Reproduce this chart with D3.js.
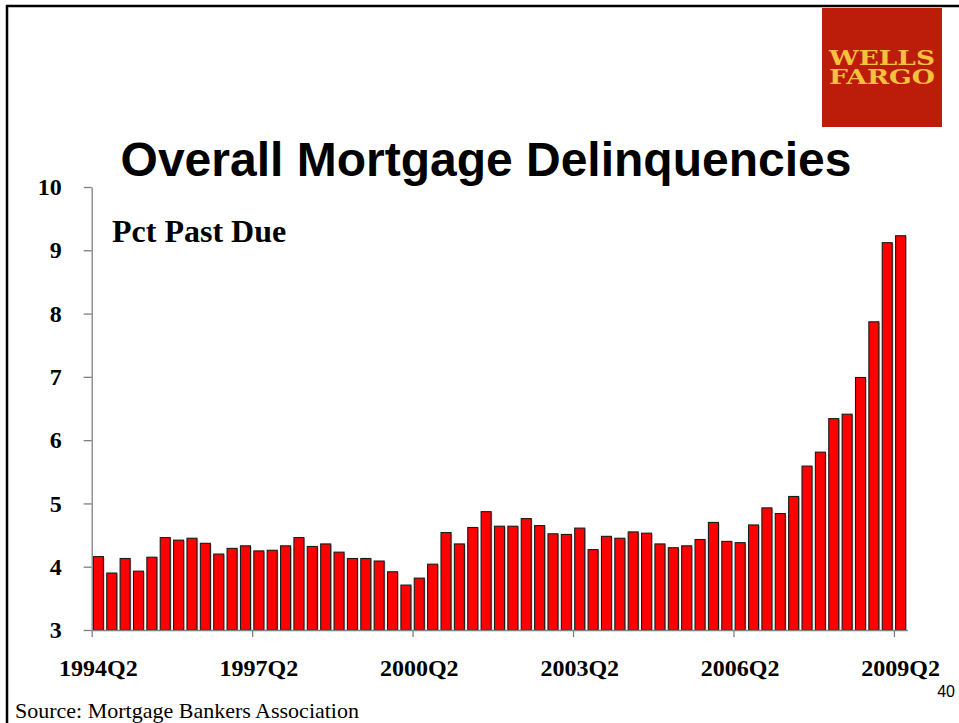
<!DOCTYPE html>
<html>
<head>
<meta charset="utf-8">
<script src="https://cdn.jsdelivr.net/npm/d3@7"></script>
<style>
  html, body { margin: 0; padding: 0; background: #fff; }
  svg { display: block; }
</style>
</head>
<body>
<svg id="chart" width="959" height="723"></svg>
<script>
// ---- data ----
const startYear = 1994, startQuarter = 2;
const values = [
  4.16, 3.90, 4.13, 3.93, 4.15, 4.46, 4.42, 4.45, 4.37, 4.20,
  4.29, 4.33, 4.25, 4.26, 4.33, 4.46, 4.32, 4.36, 4.23, 4.13,
  4.13, 4.09, 3.92, 3.71, 3.82, 4.04, 4.54, 4.36, 4.62, 4.87,
  4.64, 4.64, 4.76, 4.65, 4.52, 4.51, 4.61, 4.27, 4.48, 4.45,
  4.55, 4.53, 4.36, 4.30, 4.33, 4.43, 4.70, 4.40, 4.38, 4.66,
  4.93, 4.84, 5.11, 5.59, 5.81, 6.34, 6.41, 6.99, 7.87, 9.12,
  9.23
];
const categories = values.map((v, i) => {
  const q0 = (startQuarter - 1) + i;
  return (startYear + Math.floor(q0 / 4)) + "Q" + (q0 % 4 + 1);
});
const xTickLabels = ["1994Q2", "1997Q2", "2000Q2", "2003Q2", "2006Q2", "2009Q2"];
const yTicks = [3, 4, 5, 6, 7, 8, 9, 10];
const titleText = "Overall Mortgage Delinquencies";
const subtitleText = "Pct Past Due";
const sourceText = "Source: Mortgage Bankers Association";
const pageNumber = "40";
const logoLines = ["WELLS", "FARGO"];

// ---- layout ----
const svg = d3.select("#chart");
const plotLeft = 91.7, plotRight = 907.3, plotTop = 187, plotBottom = 630;

const x = d3.scaleBand().domain(categories).range([plotLeft, plotRight])
  .paddingInner(0.25).paddingOuter(0.125);
const y = d3.scaleLinear().domain([3, 10]).range([plotBottom, plotTop]);

// slide border
svg.append("line").attr("x1", 6).attr("x2", 959).attr("y1", 6).attr("y2", 6)
  .attr("stroke", "#000").attr("stroke-width", 2.5);
svg.append("line").attr("x1", 7).attr("x2", 7).attr("y1", 5).attr("y2", 723)
  .attr("stroke", "#000").attr("stroke-width", 2.5);

// logo
const logo = svg.append("g");
logo.append("rect").attr("x", 822).attr("y", 8).attr("width", 120).attr("height", 119)
  .attr("fill", "#bc1d0b");
logoLines.forEach((t, i) => {
  logo.append("text").attr("x", 882).attr("y", 65 + i * 18.5)
    .attr("text-anchor", "middle")
    .attr("font-family", "'DejaVu Serif', 'Liberation Serif', serif")
    .attr("font-weight", "bold").attr("font-size", 19.5)
    .attr("textLength", 106).attr("lengthAdjust", "spacingAndGlyphs")
    .attr("fill", "#f6c13c").text(t);
});

// title
svg.append("text").attr("x", 486).attr("y", 176).attr("text-anchor", "middle")
  .attr("font-family", "'Liberation Sans', Arial, sans-serif")
  .attr("font-weight", "bold").attr("font-size", 48).attr("fill", "#000")
  .text(titleText);

svg.append("text").attr("x", 112).attr("y", 242)
  .attr("font-family", "'Liberation Serif', 'Times New Roman', serif")
  .attr("font-weight", "bold").attr("font-size", 32).attr("fill", "#000")
  .text(subtitleText);

// bars (shadow + bar)
const barG = svg.append("g");
barG.selectAll("rect.shadow").data(values).join("rect")
  .attr("class", "shadow")
  .attr("x", (d, i) => x(categories[i]) + 1.2)
  .attr("y", d => y(d) + 1)
  .attr("width", x.bandwidth())
  .attr("height", d => plotBottom - y(d) - 1)
  .attr("fill", "#999").attr("opacity", 0.6);
barG.selectAll("rect.bar").data(values).join("rect")
  .attr("class", "bar")
  .attr("x", (d, i) => x(categories[i]))
  .attr("y", d => y(d))
  .attr("width", x.bandwidth())
  .attr("height", d => plotBottom - y(d))
  .attr("fill", "#ff0000").attr("stroke", "#1a1a1a").attr("stroke-width", 1.1);

// y axis
const yAxis = svg.append("g").attr("transform", `translate(${plotLeft},0)`)
  .call(d3.axisLeft(y).tickValues(yTicks).tickSize(8).tickSizeOuter(0).tickPadding(22).tickFormat(d3.format("d")));
yAxis.select(".domain").attr("stroke", "#808080").attr("stroke-width", 1.3);
yAxis.selectAll(".tick line").attr("stroke", "#808080").attr("stroke-width", 1.3);
yAxis.selectAll("text")
  .attr("font-family", "'Liberation Serif', 'Times New Roman', serif")
  .attr("font-weight", "bold").attr("font-size", 24).attr("fill", "#000");

// x axis: tick marks at quarter boundaries, labels at band centres
const xEdge = d3.scaleLinear().domain([0, categories.length]).range([plotLeft, plotRight]);
const tickIdx = xTickLabels.map(l => categories.indexOf(l));
const xAxisTicks = svg.append("g").attr("transform", `translate(0,${plotBottom})`)
  .call(d3.axisBottom(xEdge).tickValues(tickIdx).tickSize(7).tickSizeOuter(0).tickFormat(""));
xAxisTicks.select(".domain").attr("stroke", "#808080").attr("stroke-width", 1.3);
xAxisTicks.selectAll(".tick line").attr("stroke", "#808080").attr("stroke-width", 1.3);

const xAxisLabels = svg.append("g").attr("transform", `translate(0,${plotBottom})`)
  .call(d3.axisBottom(x).tickValues(xTickLabels).tickSize(0));
xAxisLabels.select(".domain").remove();
xAxisLabels.selectAll("text")
  .attr("y", 46).attr("dy", 0)
  .attr("font-family", "'Liberation Serif', 'Times New Roman', serif")
  .attr("font-weight", "bold").attr("font-size", 24).attr("fill", "#000");

// footer
svg.append("text").attr("x", 15).attr("y", 718)
  .attr("font-family", "'Liberation Serif', 'Times New Roman', serif")
  .attr("font-size", 22).attr("fill", "#000").text(sourceText);
svg.append("text").attr("x", 955).attr("y", 697).attr("text-anchor", "end")
  .attr("font-family", "'Liberation Sans', Arial, sans-serif")
  .attr("font-size", 16).attr("fill", "#000").text(pageNumber);
</script>
</body>
</html>
